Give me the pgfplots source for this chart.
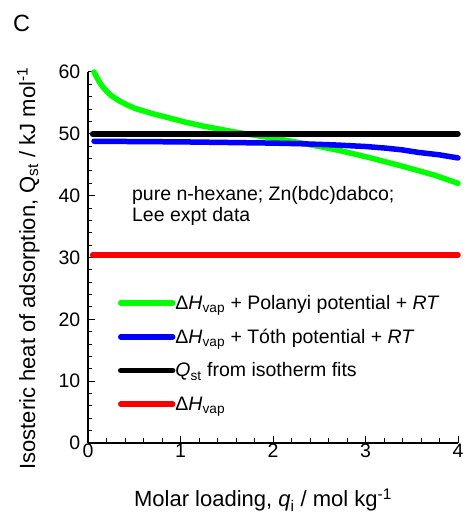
\documentclass[border=0pt]{standalone}
\usepackage{fontspec}
\setmainfont{Liberation Sans}
\usepackage{pgfplots}
\pgfplotsset{compat=1.18}
\definecolor{cgreen}{RGB}{0,255,0}
\definecolor{cblue}{RGB}{0,0,255}
\definecolor{cred}{RGB}{255,0,0}
\begin{document}
\begin{tikzpicture}
\path[use as bounding box] (0bp,0bp) rectangle (467bp,512bp);
\node[anchor=base west, inner sep=0pt, font=\fontsize{23.5bp}{28bp}\selectfont] at (13bp,480.3bp) {C};
\begin{axis}[
  at={(88bp,69bp)}, anchor=south west,
  scale only axis, width=370bp, height=371bp,
  xmin=0, xmax=4, ymin=0, ymax=60,
  clip=false,
  axis lines=left,
  axis line style={-, line width=1.2bp},
  xtick={0,1,2,3,4}, ytick={0,10,20,30,40,50,60},
  minor x tick num=4, minor y tick num=4,
  tick align=inside,
  major tick length=7bp, minor tick length=4.5bp,
  tick style={line width=1bp, black},
  /pgf/number format/assume math mode=true,
  ticklabel style={font=\fontsize{19.5bp}{22bp}\selectfont},
  xticklabel style={inner sep=0pt, anchor=north, yshift=-1bp},
  yticklabel style={inner sep=0pt, anchor=east, xshift=-7.5bp},
  xlabel={Molar loading, \textit{q}\textsubscript{i} / mol kg\textsuperscript{-1}},
  ylabel={Isosteric heat of adsorption, Q\textsubscript{st} / kJ mol\textsuperscript{-1}},
  xlabel style={at={(rel axis cs:0.473,-0.1725)}, anchor=base, inner sep=0pt, font=\fontsize{22bp}{26bp}\selectfont},
  ylabel style={at={(rel axis cs:-0.1432,0.47)}, anchor=base, inner sep=0pt, font=\fontsize{22bp}{26bp}\selectfont},
  every axis plot/.append style={line width=5.5bp, line cap=round, line join=round},
  legend cell align=left,
  legend style={at={(axis cs:0.324,24.0)}, anchor=north west, draw=none, fill=none,
    inner sep=0pt, outer sep=0pt, row sep=16.7bp,
    font=\fontsize{19.5bp}{22bp}\selectfont,
    nodes={inner sep=0pt, text height=15bp, text depth=2bp}},
  legend image code/.code={\draw[#1, line width=5.5bp, line cap=round] (2.75bp,0bp) -- (47.25bp,0bp); \path (0bp,0bp) -- (52bp,0bp);},
]
\addplot[cgreen, no marks] coordinates {
(0.065,60.0)(0.08,59.6)(0.1,59.0)(0.13,58.2)(0.16,57.6)(0.2,56.9)(0.25,56.2)(0.33,55.4)(0.42,54.7)(0.51,54.1)(0.6,53.7)(0.69,53.3)(0.87,52.6)(1.05,51.9)(1.23,51.3)(1.37,50.9)(1.55,50.4)(1.79,49.8)(2.0,49.3)(2.22,48.75)(2.45,48.1)(2.72,47.3)(3.03,46.2)(3.39,44.8)(3.75,43.3)(4.0,42.0)
};
\addlegendentry{Δ\textit{H}\textsubscript{vap} + Polanyi potential + \textit{RT}}
\addplot[cblue, no marks] coordinates {
(0.065,48.8)(0.5,48.75)(1.0,48.7)(1.5,48.6)(2.0,48.5)(2.3,48.4)(2.67,48.2)(3.0,47.95)(3.21,47.7)(3.4,47.4)(3.57,47.0)(3.8,46.6)(4.0,46.1)
};
\addlegendentry{Δ\textit{H}\textsubscript{vap} + Tóth potential + \textit{RT}}
\addplot[black, no marks] coordinates {(0.05,50)(4,50)};
\addlegendentry{\textit{Q}\textsubscript{st} from isotherm fits}
\addplot[cred, no marks] coordinates {(0.05,30.4)(4,30.4)};
\addlegendentry{Δ\textit{H}\textsubscript{vap}}
\node[anchor=base west, inner sep=0pt, font=\fontsize{19.5bp}{22bp}\selectfont] at (axis cs:0.475,39.2) {pure n-hexane; Zn(bdc)dabco;};
\node[anchor=base west, inner sep=0pt, font=\fontsize{19.5bp}{22bp}\selectfont] at (axis cs:0.475,35.8) {Lee expt data};
\end{axis}
\end{tikzpicture}
\end{document}
